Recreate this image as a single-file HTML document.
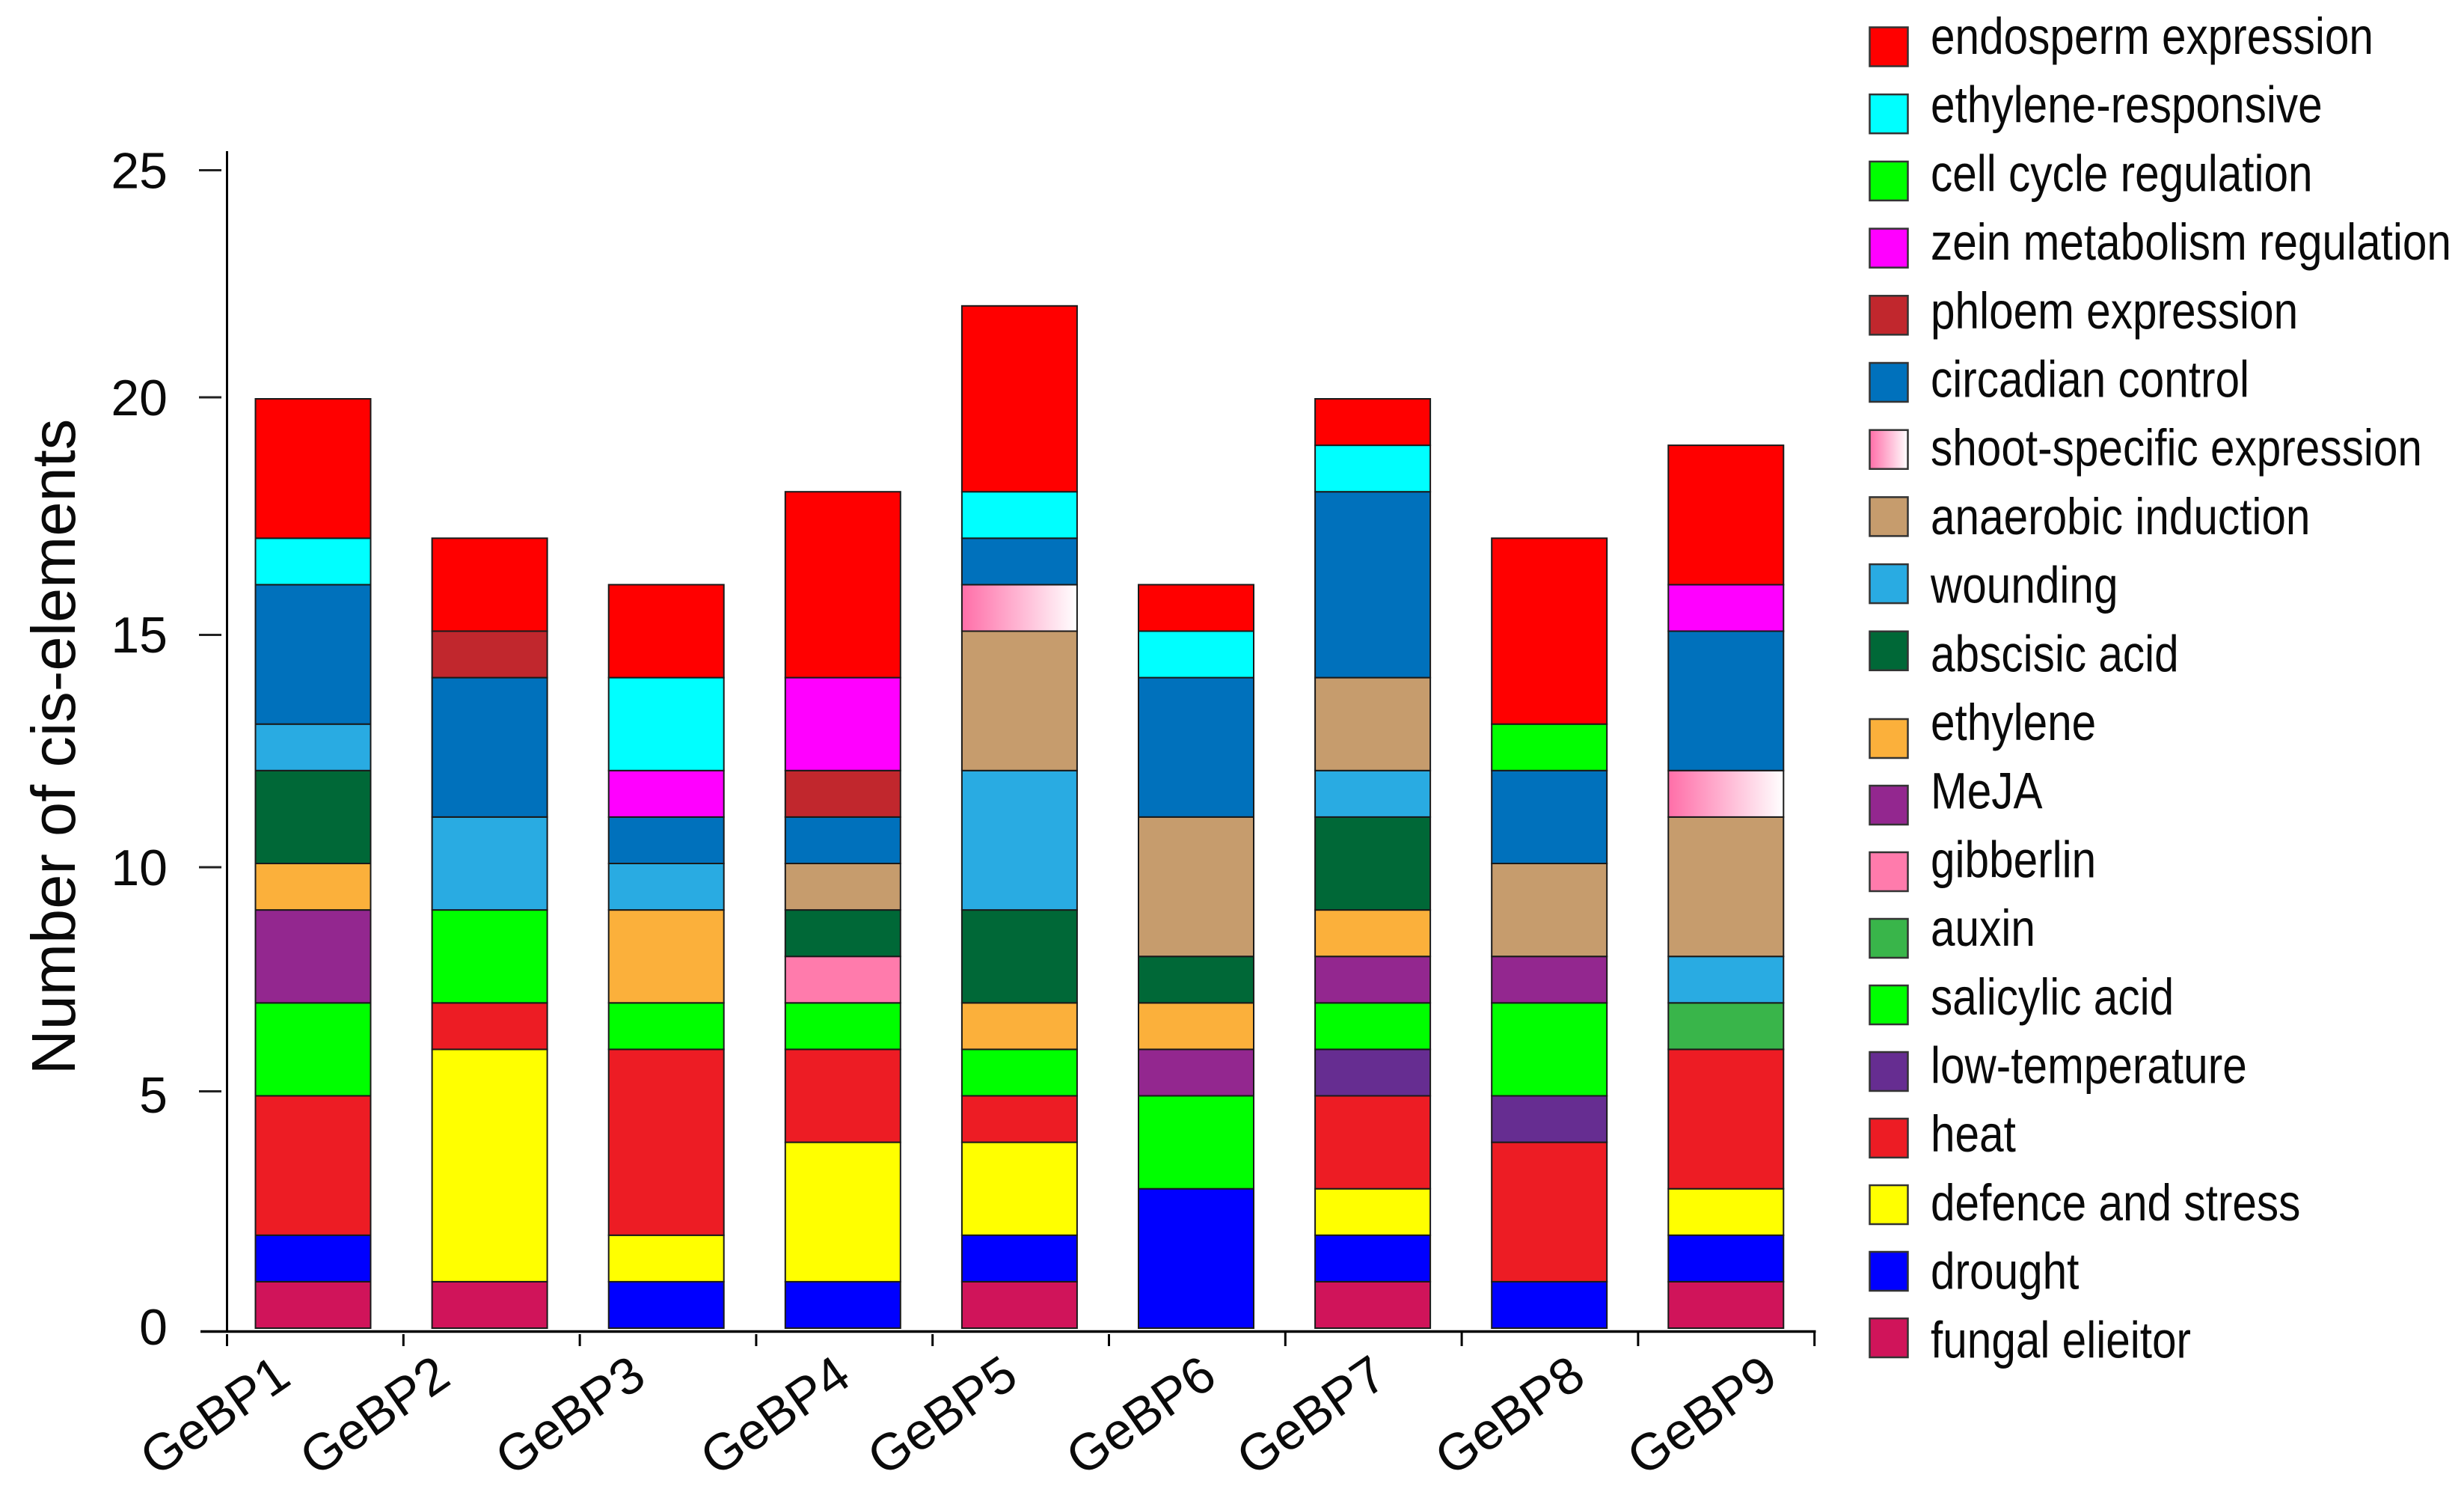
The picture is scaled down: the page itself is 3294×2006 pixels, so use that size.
<!DOCTYPE html>
<html lang="en">
<head>
<meta charset="utf-8">
<title>Number of cis-elements in GeBP genes</title>
<style>
html,body{margin:0;padding:0;background:#fff;width:3294px;height:2006px;overflow:hidden}
svg{display:block}
text{font-family:"Liberation Sans",Arial,sans-serif;fill:#0a0a0a}
.xl{font-size:69px;text-anchor:end}
.yl{font-size:68px;text-anchor:end}
</style>
</head>
<body>
<svg id="chart" xmlns="http://www.w3.org/2000/svg" width="3294" height="2006" viewBox="0 0 3294 2006">
<defs>
<linearGradient id="shoot-gradient" x1="0" y1="0" x2="1" y2="0">
<stop offset="0" stop-color="#ff6ea8"/>
<stop offset="1" stop-color="#ffffff"/>
</linearGradient>
</defs>
<g>
<text class="xl" transform="translate(392,1848) rotate(-34.6)">GeBP1</text>
<text class="xl" transform="translate(605.6,1848) rotate(-34.6)">GeBP2</text>
<text class="xl" transform="translate(867,1848) rotate(-34.6)">GeBP3</text>
<text class="xl" transform="translate(1141,1848) rotate(-34.6)">GeBP4</text>
<text class="xl" transform="translate(1364.5,1848) rotate(-34.6)">GeBP5</text>
<text class="xl" transform="translate(1630,1848) rotate(-34.6)">GeBP6</text>
<text class="xl" transform="translate(1858,1848) rotate(-34.6)">GeBP7</text>
<text class="xl" transform="translate(2123,1848) rotate(-34.6)">GeBP8</text>
<text class="xl" transform="translate(2380,1848) rotate(-34.6)">GeBP9</text>
</g>
<g>
<text class="yl" x="224" y="251.5">25</text>
<text class="yl" x="224" y="555">20</text>
<text class="yl" x="224" y="872">15</text>
<text class="yl" x="224" y="1183">10</text>
<text class="yl" x="224" y="1487">5</text>
<text class="yl" x="224" y="1797">0</text>
</g>
<text font-size="83" text-anchor="middle" transform="translate(100,998) rotate(-90)">Number of cis-elements</text>
</svg>
<script>
const categories = ["GeBP1","GeBP2","GeBP3","GeBP4","GeBP5","GeBP6","GeBP7","GeBP8","GeBP9"];
const yTicks = [5,10,15,20,25];

const fungal    = [1,1,0,0,1,0,1,0,1];
const drought   = [1,0,1,1,1,3,1,1,1];
const defence   = [0,5,1,3,2,0,1,0,1];
const heat      = [3,1,4,2,1,0,2,3,3];
const lowTemp   = [0,0,0,0,0,0,1,1,0];
const salicylic = [2,2,1,1,1,2,1,2,0];
const auxin     = [0,0,0,0,0,0,0,0,1];
const gibberlin = [0,0,0,1,0,0,0,0,0];
const meja      = [2,0,0,0,0,1,1,1,0];
const ethylene  = [1,0,2,0,1,1,1,0,0];
const abscisic  = [2,0,0,1,2,1,2,0,0];
const wounding  = [1,2,1,0,3,0,1,0,1];
const anaerobic = [0,0,0,1,3,3,2,2,3];
const shoot     = [0,0,0,0,1,0,0,0,1];
const circadian = [3,3,1,1,1,3,4,2,3];
const phloem    = [0,1,0,1,0,0,0,0,0];
const zein      = [0,0,1,2,0,0,0,0,1];
const cellCycle = [0,0,0,0,0,0,0,1,0];
const ethResp   = [1,0,2,0,1,1,1,0,0];
const endosperm = [3,2,2,4,4,1,1,4,3];

// bottom-to-top stacking order
const stackOrder = [
  ["fungal elieitor", fungal, "#d0145a"],
  ["drought", drought, "#0000ff"],
  ["defence and stress", defence, "#ffff00"],
  ["heat", heat, "#ed1c24"],
  ["low-temperature", lowTemp, "#662d91"],
  ["salicylic acid", salicylic, "#00ff00"],
  ["auxin", auxin, "#39b54a"],
  ["gibberlin", gibberlin, "#ff7bac"],
  ["MeJA", meja, "#93278f"],
  ["ethylene", ethylene, "#fbb03b"],
  ["abscisic acid", abscisic, "#006837"],
  ["wounding", wounding, "#29abe2"],
  ["anaerobic induction", anaerobic, "#c69c6d"],
  ["shoot-specific expression", shoot, "url(#shoot-gradient)"],
  ["circadian control", circadian, "#0071bc"],
  ["phloem expression", phloem, "#c1272d"],
  ["zein metabolism regulation", zein, "#ff00ff"],
  ["cell cycle regulation", cellCycle, "#00ff00"],
  ["ethylene-responsive", ethResp, "#00ffff"],
  ["endosperm expression", endosperm, "#ff0000"]
];

const svg = document.getElementById('chart');
const NS = 'http://www.w3.org/2000/svg';
function make(tag, attrs, parent) {
  const el = document.createElementNS(NS, tag);
  for (const k in attrs) el.setAttribute(k, attrs[k]);
  (parent || svg).appendChild(el);
  return el;
}
function kebab(s) { return s.toLowerCase().replace(/[^a-z0-9]+/g, '-'); }

// axis functions
const barBase = 1775, unit = 62.1;
function yVal(v) { return barBase - v * unit; }
function yTick(v) { return 1780 - v * unit - (v === 5 ? 11 : v === 20 ? 7 : 0); }
function barLeft(i) { return 341.5 + i * 236.1; }
const barWidth = 154;
function xTick(i) { return 303.5 + i * 235.8; }

// bars
categories.forEach(function (cat, i) {
  const g = make('g', {});
  
  
  let cum = 0;
  stackOrder.forEach(function (s) {
    const v = s[1][i];
    if (!v) return;
    const r = make('rect', {
      x: barLeft(i), y: yVal(cum + v), width: barWidth, height: yVal(cum) - yVal(cum + v),
      fill: s[2], stroke: '#1a1a1a', 'stroke-width': 2
    }, g);
    
    
    cum += v;
  });
});

// axes
const yAxis = make('line', {x1: 303.5, x2: 303.5, y1: 202, y2: 1781, stroke: '#000', 'stroke-width': 3});


const xAxis = make('line', {x1: 268, x2: 2427.5, y1: 1779.5, y2: 1779.5, stroke: '#000', 'stroke-width': 3.5});



yTicks.forEach(function (t) {
  const tick = make('line', {x1: 266, x2: 296, y1: yTick(t), y2: yTick(t), stroke: '#222', 'stroke-width': 3});
  
  
});

for (let i = 0; i <= categories.length; i++) {
  const tick = make('line', {x1: xTick(i), x2: xTick(i), y1: i > 5 ? 1780 : 1783, y2: 1799, stroke: '#000', 'stroke-width': 3});
  
  
}

// legend (top entry first): swatches sit in two slightly offset blocks of ten
function swatchY(i) { return i < 10 ? 36.5 + i * 89.7 : 961 + (i - 10) * 89; }
const legendEntries = stackOrder.slice().reverse();
legendEntries.forEach(function (s, i) {
  const g = make('g', {});
  
  
  const sw = make('rect', {x: 2499.5, y: swatchY(i), width: 51, height: 52, fill: s[2], stroke: '#333', 'stroke-width': 2.5}, g);
  
  
  const t = make('text', {'font-size': 69, transform: 'translate(2581,' + (72 + i * 91.7) + ') scale(0.848,1)'}, g);
  t.textContent = s[0];
  
  
});
</script>
</body>
</html>
